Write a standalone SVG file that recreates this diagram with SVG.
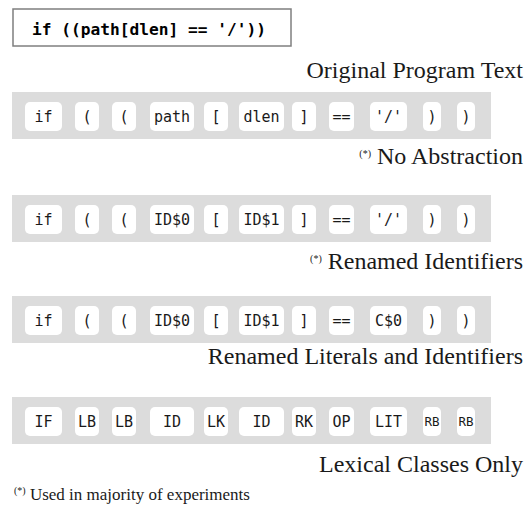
<svg xmlns="http://www.w3.org/2000/svg" width="529" height="510" viewBox="0 0 529 510">
<style>
.band{fill:#dcdcdc}
.tok{fill:#ffffff}
.tt{font-family:"DejaVu Sans Mono","Liberation Mono",monospace;font-size:15px;fill:#1a1a1a;text-anchor:middle}
.tts{font-size:12.5px}
.lbl{font-family:"Liberation Serif","Times New Roman",serif;font-size:24px;fill:#1a1a1a;text-anchor:end}
.sup{font-size:10px}
.foot{font-family:"Liberation Serif","Times New Roman",serif;font-size:17px;fill:#1a1a1a}
</style>
<rect width="529" height="510" fill="#ffffff"/>
<g id="original">
<rect x="13" y="9" width="278" height="37" fill="#ffffff" stroke="#7f7f7f" stroke-width="1.5"/>
<text x="32" y="35" font-family="'DejaVu Sans Mono','Liberation Mono',monospace" font-weight="bold" font-size="16.2" fill="#000">if ((path[dlen] == '/'))</text>
<text class="lbl" x="523" y="78">Original Program Text</text>
</g>
<g id="row1">
<rect class="band" x="12" y="92" width="479" height="47"/>
<g id="r1t1"><rect class="tok" x="25" y="102" width="37" height="29" rx="5"/><text class="tt" x="43.5" y="122">if</text></g>
<g id="r1t2"><rect class="tok" x="75" y="102" width="24" height="29" rx="5"/><text class="tt" x="87" y="122">(</text></g>
<g id="r1t3"><rect class="tok" x="112" y="102" width="24" height="29" rx="5"/><text class="tt" x="124" y="122">(</text></g>
<g id="r1t4"><rect class="tok" x="150" y="102" width="44" height="29" rx="5"/><text class="tt" x="172" y="122">path</text></g>
<g id="r1t5"><rect class="tok" x="204" y="102" width="24" height="29" rx="5"/><text class="tt" x="216" y="122">[</text></g>
<g id="r1t6"><rect class="tok" x="239" y="102" width="45" height="29" rx="5"/><text class="tt" x="261.5" y="122">dlen</text></g>
<g id="r1t7"><rect class="tok" x="292" y="102" width="24" height="29" rx="5"/><text class="tt" x="304" y="122">]</text></g>
<g id="r1t8"><rect class="tok" x="329" y="102" width="25" height="29" rx="5"/><text class="tt" x="341.5" y="122">==</text></g>
<g id="r1t9"><rect class="tok" x="370" y="102" width="37" height="29" rx="5"/><text class="tt" x="388.5" y="122">'/'</text></g>
<g id="r1t10"><rect class="tok" x="423" y="102" width="18" height="29" rx="5"/><text class="tt" x="432" y="122">)</text></g>
<g id="r1t11"><rect class="tok" x="457" y="102" width="18" height="29" rx="5"/><text class="tt" x="466" y="122">)</text></g>
<text class="lbl" x="523" y="164"><tspan class="sup" dy="-7">(*)</tspan><tspan dy="7"> No Abstraction</tspan></text>
</g>
<g id="row2">
<rect class="band" x="12" y="195" width="479" height="47"/>
<g id="r2t1"><rect class="tok" x="25" y="205" width="37" height="29" rx="5"/><text class="tt" x="43.5" y="225">if</text></g>
<g id="r2t2"><rect class="tok" x="75" y="205" width="24" height="29" rx="5"/><text class="tt" x="87" y="225">(</text></g>
<g id="r2t3"><rect class="tok" x="112" y="205" width="24" height="29" rx="5"/><text class="tt" x="124" y="225">(</text></g>
<g id="r2t4"><rect class="tok" x="150" y="205" width="44" height="29" rx="5"/><text class="tt" x="172" y="225">ID$0</text></g>
<g id="r2t5"><rect class="tok" x="204" y="205" width="24" height="29" rx="5"/><text class="tt" x="216" y="225">[</text></g>
<g id="r2t6"><rect class="tok" x="239" y="205" width="45" height="29" rx="5"/><text class="tt" x="261.5" y="225">ID$1</text></g>
<g id="r2t7"><rect class="tok" x="292" y="205" width="24" height="29" rx="5"/><text class="tt" x="304" y="225">]</text></g>
<g id="r2t8"><rect class="tok" x="329" y="205" width="25" height="29" rx="5"/><text class="tt" x="341.5" y="225">==</text></g>
<g id="r2t9"><rect class="tok" x="370" y="205" width="37" height="29" rx="5"/><text class="tt" x="388.5" y="225">'/'</text></g>
<g id="r2t10"><rect class="tok" x="423" y="205" width="18" height="29" rx="5"/><text class="tt" x="432" y="225">)</text></g>
<g id="r2t11"><rect class="tok" x="457" y="205" width="18" height="29" rx="5"/><text class="tt" x="466" y="225">)</text></g>
<text class="lbl" x="523" y="269"><tspan class="sup" dy="-7">(*)</tspan><tspan dy="7"> Renamed Identifiers</tspan></text>
</g>
<g id="row3">
<rect class="band" x="12" y="296" width="479" height="47"/>
<g id="r3t1"><rect class="tok" x="25" y="306" width="37" height="29" rx="5"/><text class="tt" x="43.5" y="326">if</text></g>
<g id="r3t2"><rect class="tok" x="75" y="306" width="24" height="29" rx="5"/><text class="tt" x="87" y="326">(</text></g>
<g id="r3t3"><rect class="tok" x="112" y="306" width="24" height="29" rx="5"/><text class="tt" x="124" y="326">(</text></g>
<g id="r3t4"><rect class="tok" x="150" y="306" width="44" height="29" rx="5"/><text class="tt" x="172" y="326">ID$0</text></g>
<g id="r3t5"><rect class="tok" x="204" y="306" width="24" height="29" rx="5"/><text class="tt" x="216" y="326">[</text></g>
<g id="r3t6"><rect class="tok" x="239" y="306" width="45" height="29" rx="5"/><text class="tt" x="261.5" y="326">ID$1</text></g>
<g id="r3t7"><rect class="tok" x="292" y="306" width="24" height="29" rx="5"/><text class="tt" x="304" y="326">]</text></g>
<g id="r3t8"><rect class="tok" x="329" y="306" width="25" height="29" rx="5"/><text class="tt" x="341.5" y="326">==</text></g>
<g id="r3t9"><rect class="tok" x="370" y="306" width="37" height="29" rx="5"/><text class="tt" x="388.5" y="326">C$0</text></g>
<g id="r3t10"><rect class="tok" x="423" y="306" width="18" height="29" rx="5"/><text class="tt" x="432" y="326">)</text></g>
<g id="r3t11"><rect class="tok" x="457" y="306" width="18" height="29" rx="5"/><text class="tt" x="466" y="326">)</text></g>
<text class="lbl" x="523" y="364">Renamed Literals and Identifiers</text>
</g>
<g id="row4">
<rect class="band" x="12" y="397" width="479" height="47"/>
<g id="r4t1"><rect class="tok" x="25" y="407" width="37" height="29" rx="5"/><text class="tt" x="43.5" y="427">IF</text></g>
<g id="r4t2"><rect class="tok" x="75" y="407" width="24" height="29" rx="5"/><text class="tt" x="87" y="427">LB</text></g>
<g id="r4t3"><rect class="tok" x="112" y="407" width="24" height="29" rx="5"/><text class="tt" x="124" y="427">LB</text></g>
<g id="r4t4"><rect class="tok" x="150" y="407" width="44" height="29" rx="5"/><text class="tt" x="172" y="427">ID</text></g>
<g id="r4t5"><rect class="tok" x="204" y="407" width="24" height="29" rx="5"/><text class="tt" x="216" y="427">LK</text></g>
<g id="r4t6"><rect class="tok" x="239" y="407" width="45" height="29" rx="5"/><text class="tt" x="261.5" y="427">ID</text></g>
<g id="r4t7"><rect class="tok" x="292" y="407" width="24" height="29" rx="5"/><text class="tt" x="304" y="427">RK</text></g>
<g id="r4t8"><rect class="tok" x="329" y="407" width="25" height="29" rx="5"/><text class="tt" x="341.5" y="427">OP</text></g>
<g id="r4t9"><rect class="tok" x="370" y="407" width="37" height="29" rx="5"/><text class="tt" x="388.5" y="427">LIT</text></g>
<g id="r4t10"><rect class="tok" x="423" y="407" width="18" height="29" rx="5"/><text class="tt tts" x="432" y="426">RB</text></g>
<g id="r4t11"><rect class="tok" x="457" y="407" width="18" height="29" rx="5"/><text class="tt tts" x="466" y="426">RB</text></g>
<text class="lbl" x="523" y="472">Lexical Classes Only</text>
</g>
<g id="footnote">
<text class="foot" x="14" y="500"><tspan font-size="10" dy="-6">(*)</tspan><tspan dy="6"> Used in majority of experiments</tspan></text>
</g>
</svg>
